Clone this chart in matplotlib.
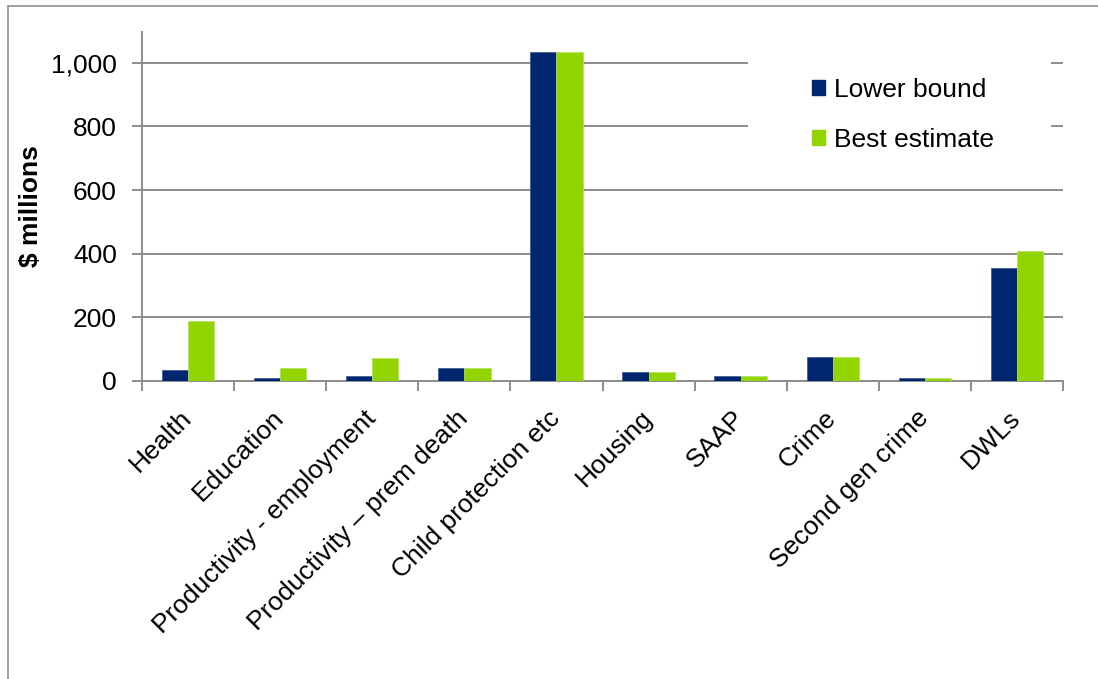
import matplotlib
matplotlib.use("Agg")
import matplotlib.pyplot as plt
import numpy as np
from matplotlib.patches import Rectangle
from matplotlib.lines import Line2D

plt.rcParams['font.family'] = ['Liberation Sans', 'DejaVu Sans']

categories = ["Health", "Education", "Productivity - employment",
              "Productivity \u2013 prem death", "Child protection etc", "Housing",
              "SAAP", "Crime", "Second gen crime", "DWLs"]
lower_bound = [35, 8, 15, 40, 1034, 28, 15, 76, 8, 354]
best_estimate = [188, 40, 71, 40, 1034, 28, 15, 76, 8, 410]
y_ticks = [0, 200, 400, 600, 800, 1000]
y_tick_labels = ["0", "200", "400", "600", "800", "1,000"]

navy = "#00266F"
green = "#92D400"
grid_grey = "#8C8C8C"
FS = 19

W, H = 1098, 679
fig = plt.figure(figsize=(W / 100, H / 100), dpi=100)
ax = fig.add_axes([142 / W, 1 - 381 / H, (1063 - 142) / W, (381 - 32) / H])

x = np.arange(len(categories))
bw = 0.285
ax.bar(x - bw / 2, lower_bound, width=bw, color=navy, edgecolor="#3a5590",
       linewidth=0.5, label="Lower bound", zorder=3)
ax.bar(x + bw / 2, best_estimate, width=bw, color=green, edgecolor="#b5e060",
       linewidth=0.5, label="Best estimate", zorder=3)

ax.set_xlim(-0.5, len(categories) - 0.5)
ax.set_ylim(0, 1097)
ax.set_yticks(y_ticks)
ax.set_yticklabels(y_tick_labels, fontsize=FS)
ax.yaxis.grid(True, color=grid_grey, linewidth=1.4, zorder=0)
ax.set_axisbelow(True)

ax.set_xticks(x)
ax.set_xticklabels(categories, fontsize=FS, rotation=45, ha="right",
                   va="center", rotation_mode="anchor")
ax.set_xticks(np.arange(-0.5, len(categories)), minor=True)
ax.tick_params(axis="x", which="major", length=0, pad=24)
ax.tick_params(axis="x", which="minor", length=7, width=1.4, color=grid_grey)
ax.tick_params(axis="y", length=7, width=1.4, color=grid_grey, pad=11)

for side in ("top", "right"):
    ax.spines[side].set_visible(False)
for side in ("left", "bottom"):
    ax.spines[side].set_color(grid_grey)
    ax.spines[side].set_linewidth(1.4)

ax.set_ylabel("$ millions", fontsize=FS, fontweight="bold", labelpad=6)

# white legend panel over the gridlines
fig.add_artist(Rectangle((748 / W, 1 - 168 / H), (1051 - 748) / W, (168 - 40) / H,
                         transform=fig.transFigure, facecolor="white",
                         edgecolor="none", zorder=2))

handles = [Rectangle((0, 0), 1, 1, color=navy), Rectangle((0, 0), 1, 1, color=green)]
leg = fig.legend(handles, ["Lower bound", "Best estimate"], fontsize=FS,
                 loc="upper left", bbox_to_anchor=(812 / W, 1 - 78 / H),
                 frameon=False, handlelength=0.5, handleheight=0.5,
                 handletextpad=0.35, labelspacing=0.98, borderpad=0,
                 borderaxespad=0)
leg.set_zorder(5)

# outer chart frame
fig.add_artist(Line2D([8 / W, 8 / W], [0, 1 - 6 / H], transform=fig.transFigure,
                      color="#999999", linewidth=1.3))
fig.add_artist(Line2D([8 / W, 1], [1 - 6 / H, 1 - 6 / H], transform=fig.transFigure,
                      color="#999999", linewidth=1.3))

fig.savefig("out.png", dpi=100, facecolor="white")
